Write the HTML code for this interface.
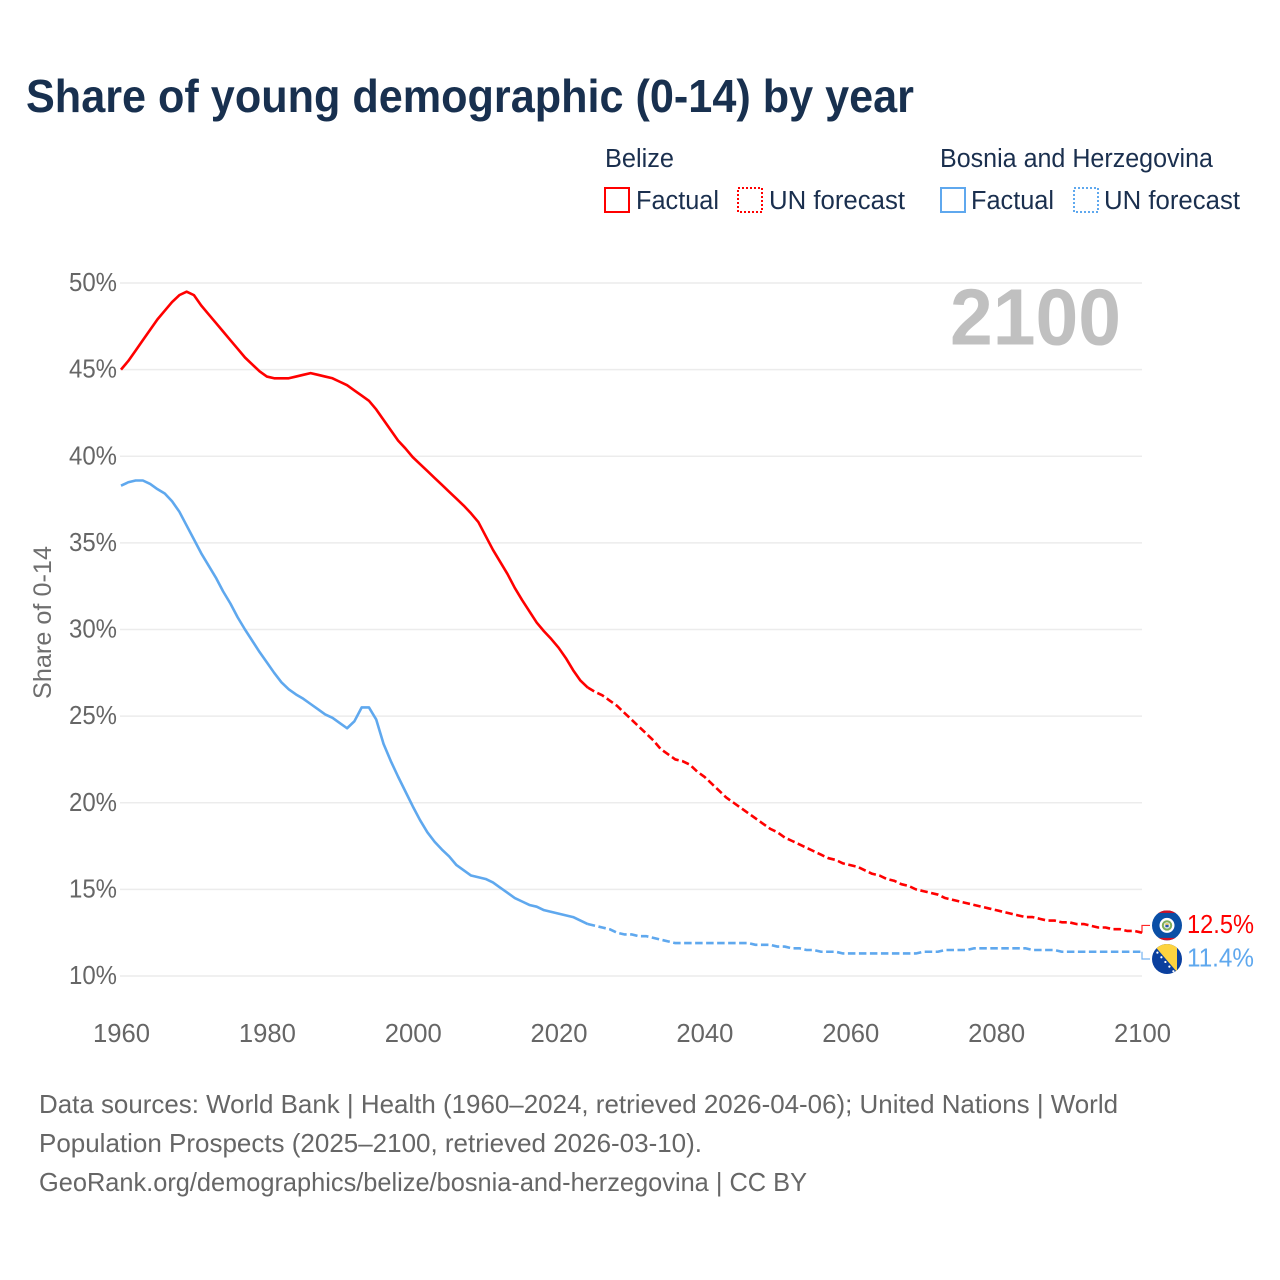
<!DOCTYPE html>
<html lang="en">
<head>
<meta charset="utf-8">
<title>Share of young demographic (0-14) by year</title>
<style>
html,body{margin:0;padding:0;background:#fff;width:1280px;height:1280px;overflow:hidden}
svg{display:block}
text{font-family:"Liberation Sans",sans-serif}
</style>
</head>
<body>
<svg id="chart" width="1280" height="1280" viewBox="0 0 1280 1280" xmlns="http://www.w3.org/2000/svg">
  <rect width="1280" height="1280" fill="#fff"/>
  <text x="26" y="112" font-size="46" font-weight="700" fill="#18304f" textLength="888" lengthAdjust="spacingAndGlyphs">Share of young demographic (0-14) by year</text>

  <g font-size="25.5" fill="#1a2f4e">
    <text x="605" y="167" textLength="69" lengthAdjust="spacingAndGlyphs">Belize</text>
    <text x="940" y="167" textLength="273" lengthAdjust="spacingAndGlyphs">Bosnia and Herzegovina</text>
    <rect x="605" y="188" width="24" height="24" fill="none" stroke="#ff0000" stroke-width="2"/>
    <text x="636" y="209" textLength="83" lengthAdjust="spacingAndGlyphs">Factual</text>
    <rect x="738" y="188" width="24" height="24" fill="none" stroke="#ff0000" stroke-width="2" stroke-dasharray="2 2"/>
    <text x="769" y="209" textLength="136" lengthAdjust="spacingAndGlyphs">UN forecast</text>
    <rect x="941" y="188" width="24" height="24" fill="none" stroke="#5fa8ee" stroke-width="2"/>
    <text x="971" y="209" textLength="83" lengthAdjust="spacingAndGlyphs">Factual</text>
    <rect x="1074" y="188" width="24" height="24" fill="none" stroke="#5fa8ee" stroke-width="2" stroke-dasharray="2 2"/>
    <text x="1104" y="209" textLength="136" lengthAdjust="spacingAndGlyphs">UN forecast</text>
  </g>

  <g id="grid"></g>
  <g id="yticks"></g>
  <g id="xticks"></g>
  <text transform="translate(51,699) rotate(-90)" font-size="25" fill="#6f6f6f" textLength="153" lengthAdjust="spacingAndGlyphs">Share of 0-14</text>
  <text x="950" y="344.5" font-size="80" font-weight="700" fill="#c0c0c0" textLength="171" lengthAdjust="spacingAndGlyphs">2100</text>
  <g id="series"></g>
  <g id="ends"></g>

  <g font-size="26" fill="#666">
    <text x="39" y="1113" textLength="1079" lengthAdjust="spacingAndGlyphs">Data sources: World Bank | Health (1960–2024, retrieved 2026-04-06); United Nations | World</text>
    <text x="39" y="1152" textLength="663" lengthAdjust="spacingAndGlyphs">Population Prospects (2025–2100, retrieved 2026-03-10).</text>
    <text x="39" y="1191" textLength="768" lengthAdjust="spacingAndGlyphs">GeoRank.org/demographics/belize/bosnia-and-herzegovina | CC BY</text>
  </g>
</svg>

<script>
const yTicks = [10, 15, 20, 25, 30, 35, 40, 45, 50];
const xTicks = [1960, 1980, 2000, 2020, 2040, 2060, 2080, 2100];
const firstYear = 1960;

const belizeFactual = [
  45.0,45.5,46.1,46.7,47.3,47.9,48.4,48.9,49.3,49.5,
  49.3,48.7,48.2,47.7,47.2,46.7,46.2,45.7,45.3,44.9,
  44.6,44.5,44.5,44.5,44.6,44.7,44.8,44.7,44.6,44.5,
  44.3,44.1,43.8,43.5,43.2,42.7,42.1,41.5,40.9,40.45,
  39.95,39.55,39.15,38.75,38.35,37.95,37.55,37.15,36.7,36.2,
  35.4,34.6,33.9,33.2,32.4,31.7,31.05,30.4,29.9,29.45,
  28.95,28.35,27.65,27.05,26.65
];
const belizeForecast = [
  26.4,26.2,25.9,25.6,25.2,
  24.8,24.4,24.0,23.6,23.1,22.8,22.5,22.4,22.2,21.8,
  21.5,21.1,20.7,20.3,20.0,19.7,19.4,19.1,18.8,18.5,
  18.3,18.0,17.8,17.6,17.4,17.2,17.0,16.8,16.7,16.5,
  16.4,16.3,16.1,15.9,15.8,15.6,15.5,15.3,15.2,15.0,
  14.9,14.8,14.7,14.5,14.4,14.3,14.2,14.1,14.0,13.9,
  13.8,13.7,13.6,13.5,13.4,13.4,13.3,13.2,13.2,13.1,
  13.1,13.0,13.0,12.9,12.8,12.8,12.7,12.7,12.6,12.6,
  12.5
];
const bosniaFactual = [
  38.3,38.5,38.6,38.6,38.4,38.1,37.85,37.4,36.8,36.0,
  35.2,34.4,33.7,33.0,32.2,31.5,30.7,30.0,29.35,28.7,
  28.1,27.5,26.95,26.55,26.25,26.0,25.7,25.4,25.1,24.9,
  24.6,24.3,24.7,25.5,25.5,24.8,23.4,22.4,21.5,20.65,
  19.8,19.0,18.3,17.75,17.3,16.9,16.4,16.1,15.8,15.7,
  15.6,15.4,15.1,14.8,14.5,14.3,14.1,14.0,13.8,13.7,
  13.6,13.5,13.4,13.2,13.0
];
const bosniaForecast = [
  12.9,12.8,12.7,12.5,12.4,
  12.4,12.3,12.3,12.2,12.1,12.0,11.9,11.9,11.9,11.9,
  11.9,11.9,11.9,11.9,11.9,11.9,11.9,11.8,11.8,11.8,
  11.7,11.7,11.6,11.6,11.5,11.5,11.4,11.4,11.4,11.3,
  11.3,11.3,11.3,11.3,11.3,11.3,11.3,11.3,11.3,11.3,
  11.4,11.4,11.4,11.5,11.5,11.5,11.5,11.6,11.6,11.6,
  11.6,11.6,11.6,11.6,11.6,11.5,11.5,11.5,11.5,11.4,
  11.4,11.4,11.4,11.4,11.4,11.4,11.4,11.4,11.4,11.4,
  11.4
];

const NS = 'http://www.w3.org/2000/svg';
const RED = '#ff0000';
const BLUE = '#5fa8ee';
const xScale = year => 121 + (year - 1960) * (1142 - 121) / 140;
const yScale = pct => 976 - (pct - 10) * (976 - 283) / 40;

function mk(tag, attrs, parent, txt) {
  const el = document.createElementNS(NS, tag);
  for (const k in attrs) el.setAttribute(k, attrs[k]);
  if (txt !== undefined) el.textContent = txt;
  parent.appendChild(el);
  return el;
}
function pathFrom(values, startYear) {
  return values.map((v, i) => (i ? 'L' : 'M') + xScale(startYear + i).toFixed(2) + ',' + yScale(v).toFixed(2)).join('');
}

const grid = document.getElementById('grid');
const yt = document.getElementById('yticks');
const xt = document.getElementById('xticks');
const series = document.getElementById('series');
const ends = document.getElementById('ends');

yTicks.forEach(t => {
  const line = mk('line', {x1: 120, x2: 1142, y1: yScale(t), y2: yScale(t), stroke: '#ececec', 'stroke-width': 1.5}, grid);
  
  
  const label = mk('text', {x: 117, y: yScale(t) + 8, 'font-size': 25.5, fill: '#666', 'text-anchor': 'end', textLength: 48, lengthAdjust: 'spacingAndGlyphs'}, yt, t + '%');
  
  
});
xTicks.forEach(t => {
  const label = mk('text', {x: xScale(t) + 0.5, y: 1042, 'font-size': 25.5, fill: '#666', 'text-anchor': 'middle', textLength: 57, lengthAdjust: 'spacingAndGlyphs'}, xt, String(t));
  
  
});

function drawSeries(key, factual, forecast, color) {
  const solid = mk('path', {d: pathFrom(factual, firstYear), fill: 'none', stroke: color, 'stroke-width': 2.6, 'stroke-linejoin': 'round'}, series);
  
  
  const dashedValues = [factual[factual.length - 1]].concat(forecast);
  const dashed = mk('path', {d: pathFrom(dashedValues, firstYear + factual.length - 1), fill: 'none', stroke: color, 'stroke-width': 2.6, 'stroke-dasharray': '7.5 3.5', 'stroke-linejoin': 'round'}, series);
  
  
}
drawSeries('belize', belizeFactual, belizeForecast, RED);
drawSeries('bosnia', bosniaFactual, bosniaForecast, BLUE);

const belizeLast = belizeForecast[belizeForecast.length - 1];
const bosniaLast = bosniaForecast[bosniaForecast.length - 1];
const endMid = (yScale(belizeLast) + yScale(bosniaLast)) / 2;
const belizeLabelY = endMid - 16.8;
const bosniaLabelY = endMid + 16.8;

function drawEnd(key, last, labelY, color, drawFlag) {
  const conn = mk('path', {d: 'M' + xScale(2100) + ',' + yScale(last) + 'V' + labelY + 'H1150', fill: 'none', stroke: color, 'stroke-width': 1.2, opacity: 0.85}, ends);
  
  
  const flag = mk('g', {transform: 'translate(1167,' + labelY + ')'}, ends);
  
  
  drawFlag(flag);
  const val = mk('text', {x: 1187, y: labelY + 7.5, 'font-size': 25.5, fill: color, textLength: 67, lengthAdjust: 'spacingAndGlyphs'}, ends, last.toFixed(1) + '%');
  
  
}

const defs = mk('defs', {}, document.getElementById('chart'));
const clip = mk('clipPath', {id: 'flag-clip'}, defs);
mk('circle', {r: 15}, clip);

drawEnd('belize', belizeLast, belizeLabelY, RED, g => {
  const c = mk('g', {'clip-path': 'url(#flag-clip)'}, g);
  mk('rect', {x: -15, y: -15, width: 30, height: 30, fill: '#0a4fa6'}, c);
  mk('rect', {x: -15, y: -15, width: 30, height: 2.5, fill: '#ce1126'}, c);
  mk('rect', {x: -15, y: 12.5, width: 30, height: 2.5, fill: '#ce1126'}, c);
  mk('circle', {r: 7.5, fill: '#fff'}, c);
  mk('circle', {r: 5.2, fill: '#7fae5a'}, c);
  mk('circle', {r: 3.2, fill: '#e8edf2'}, c);
  mk('rect', {x: -1.6, y: -0.6, width: 3.2, height: 2.4, fill: '#2b5aa8'}, c);
  mk('rect', {x: -1.6, y: -2, width: 3.2, height: 1.4, fill: '#e6b93a'}, c);
});
drawEnd('bosnia', bosniaLast, bosniaLabelY, BLUE, g => {
  const c = mk('g', {'clip-path': 'url(#flag-clip)'}, g);
  mk('rect', {x: -15, y: -15, width: 30, height: 30, fill: '#0a3f9e'}, c);
  mk('polygon', {points: '-14,-15 10,-15 10,13', fill: '#fdd33f'}, c);
  [-12, -8, -4, 0, 4, 8].forEach(o => {
    mk('circle', {cx: o - 1.6, cy: ((o + 14) * 28 / 24 - 15) + 1.6, r: 1.1, fill: '#fff'}, c);
  });
});
</script>
</body>
</html>
